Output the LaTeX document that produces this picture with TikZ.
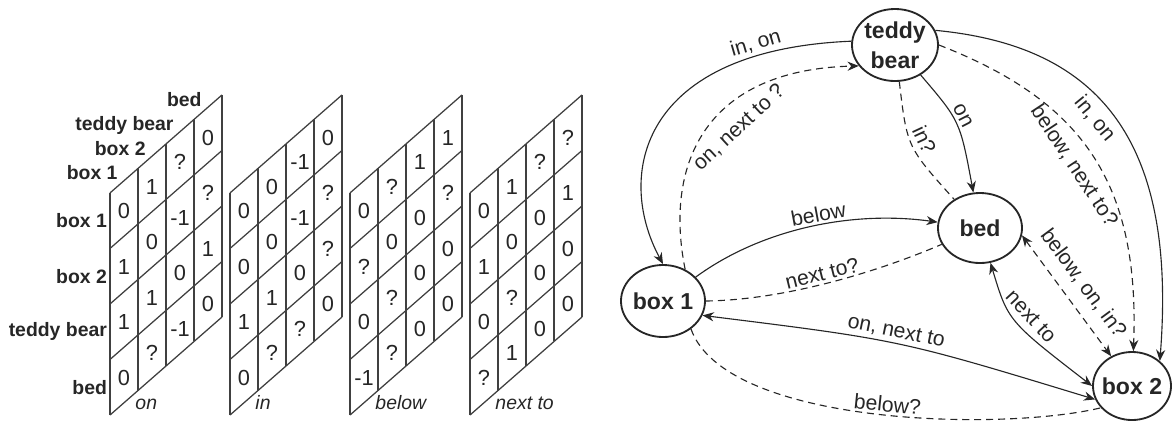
\documentclass[tikz,border=0pt]{standalone}
\usepackage{fontspec}
\setmainfont{Liberation Sans}
\usetikzlibrary{arrows.meta, shapes.geometric}

% one sheared 4x4 relation matrix: left x, relation name, values column by column
\newcommand{\relgrid}[3]{%
	\begin{scope}[shift={(#1,415)}, x={(0.7cm,0.6125cm)}, y={(0cm,1.3875cm)}]
		\foreach \i in {0,...,4} {
			\draw[gridline] (\i,0) -- (\i,4);
			\draw[gridline] (0,\i) -- (4,\i);
		}
		\foreach \col [count=\c from 0] in {#3} {
			\foreach \v [count=\r from 0] in \col
				\node[cellval] at (\c+0.5,3.45-\r) {\v};
		}
		\node[rellabel, anchor=base west] at (0.9,-0.3) {#2};
	\end{scope}}

\begin{document}
\begin{tikzpicture}[x=0.025cm, y=-0.025cm, color=black!85, >={Stealth[length=8pt,width=6.5pt]},
	gridline/.style={line width=0.9pt, draw=black!75},
	cellval/.style={font=\fontsize{15.5}{18}\selectfont, inner sep=0pt},
	axislabel/.style={font=\fontsize{13.8}{16}\selectfont\bfseries, inner sep=2pt},
	rellabel/.style={font=\fontsize{13.8}{16}\selectfont\itshape, inner sep=0pt},
	obj/.style={ellipse, draw, line width=1.3pt, align=center, inner sep=-4pt, font=\fontsize{16.4}{21}\selectfont\bfseries},
	known/.style={line width=0.8pt},
	guess/.style={line width=0.8pt, dash pattern=on 5pt off 3.5pt},
	lbl/.style={font=\fontsize{15}{17}\selectfont, inner sep=2pt, sloped}]
	\useasboundingbox (0,0) rectangle (1173,424);

	% relation matrices
	\relgrid{110}{on}{{0,1,1,0},{1,0,1,?},{?,-1,0,-1},{0,?,1,0}}
	\relgrid{230}{in}{{0,0,1,0},{0,0,1,?},{-1,-1,0,?},{0,?,?,0}}
	\relgrid{350}{below}{{0,?,0,-1},{?,0,?,?},{1,0,0,0},{1,?,0,0}}
	\relgrid{470}{next to}{{0,1,0,?},{1,0,?,1},{?,0,0,0},{?,1,0,0}}
	\begin{scope}[shift={(110,415)}, x={(0.7cm,0.6125cm)}, y={(0cm,1.3875cm)}]
		\foreach \obj [count=\r from 0] in {box 1, box 2, teddy bear, bed} {
			\node[axislabel, anchor=east] at (0,3.5-\r) {\obj};
			\node[axislabel, anchor=base east] at (\r+0.38,4.07) {\obj};
		}
	\end{scope}

	% object graph
	\node[obj, minimum width=2.15cm, minimum height=1.8cm] (teddy) at (895,45) {teddy\\bear};
	\node[obj, minimum width=2.1cm, minimum height=1.75cm] (bed) at (980,228) {bed};
	\node[obj, minimum width=2.1cm, minimum height=1.8cm] (box1) at (663,301) {box 1};
	\node[obj, minimum width=1.95cm, minimum height=1.7cm] (box2) at (1132,386) {box 2};

	\draw[known,->] (teddy.175) .. controls (640,50) and (615,175) .. (box1.north) node[lbl,pos=0.17,above] {in, on};
	\draw[guess,->] (box1.55) .. controls (665,170) and (700,70) .. (teddy.210) node[lbl,pos=0.6,below=8pt] {on, next to ?};
	\draw[known,->] (box1) .. controls (760,230) and (850,210) .. (bed) node[lbl,pos=0.55,above] {below};
	\draw[guess] (box1.east) .. controls (780,300) and (870,275) .. (bed) node[lbl,pos=0.5,above] {next to?};
	\draw[known,<->] (box1.-20) .. controls (900,340) .. (box2.200) node[lbl,pos=0.48,above] {on, next to};
	\draw[known,<->] (bed) .. controls (1008,321) .. (box2.west) node[lbl,pos=0.55,above=3pt] {next to};
	\draw[guess,<->] (bed.-10) -- (box2.125) node[lbl,midway,above=6pt] {below, on, in?};
	\draw[guess,->] (teddy.east) .. controls (1080,100) and (1140,180) .. (box2) node[lbl,pos=0.5,below=6pt] {below, next to?};
	\draw[known,->] (teddy.20) .. controls (1090,45) and (1178,130) .. (box2.42) node[lbl,pos=0.48,below=3pt] {in, on};
	\draw[known,->] (teddy) .. controls (960,121) .. (bed) node[lbl,pos=0.45,above] {on};
	\draw[guess] (teddy) .. controls (907,147) .. (bed) node[lbl,pos=0.5,above=2pt] {in?};
	\draw[guess] (box1.-45) .. controls (725,425) and (1000,432) .. (box2.215) node[lbl,pos=0.53,above] {below?};
\end{tikzpicture}
\end{document}
